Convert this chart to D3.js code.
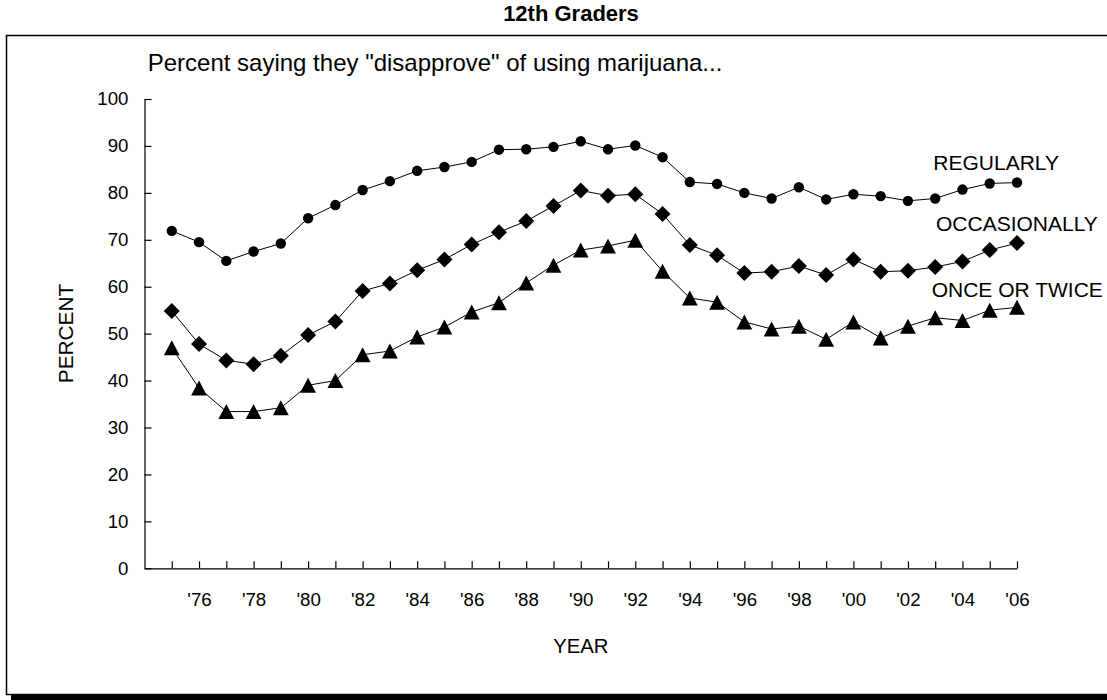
<!DOCTYPE html>
<html>
<head>
<meta charset="utf-8">
<script src="https://cdn.jsdelivr.net/npm/d3@7"></script>
<style>
  html, body { margin: 0; padding: 0; background: #fff; }
  svg { display: block; font-family: "Liberation Sans", Arial, sans-serif; }
</style>
</head>
<body>
<svg id="chart" width="1107" height="700"></svg>
<script>
const years = d3.range(1975, 2007);
const tickLabels = ["'76","'78","'80","'82","'84","'86","'88","'90","'92","'94","'96","'98","'00","'02","'04","'06"];
const yTicks = [0,10,20,30,40,50,60,70,80,90,100];
const seriesNames = ["REGULARLY", "OCCASIONALLY", "ONCE OR TWICE"];
const regularly = [71.9,69.5,65.5,67.5,69.2,74.6,77.4,80.6,82.5,84.7,85.5,86.6,89.2,89.3,89.8,91.0,89.3,90.1,87.6,82.3,81.9,80.0,78.8,81.2,78.6,79.7,79.3,78.3,78.8,80.7,82.0,82.2];
const occasionally = [54.8,47.8,44.3,43.5,45.3,49.7,52.6,59.1,60.7,63.5,65.8,69.0,71.6,74.0,77.2,80.5,79.4,79.7,75.5,68.9,66.7,62.9,63.2,64.4,62.5,65.8,63.2,63.4,64.2,65.4,67.8,69.3];
const onceTwice = [47.0,38.4,33.4,33.4,34.2,39.0,40.0,45.5,46.3,49.3,51.4,54.6,56.6,60.8,64.6,67.8,68.7,69.9,63.3,57.6,56.7,52.5,51.0,51.6,48.8,52.5,49.1,51.6,53.4,52.8,55.0,55.6];

const svg = d3.select("#chart");

// frame + shadow
svg.append("rect").attr("x", 11).attr("y", 695).attr("width", 1100).attr("height", 5).attr("fill", "#000");
svg.append("rect").attr("x", 6.5).attr("y", 35.5).attr("width", 1110).attr("height", 659)
  .attr("fill", "none").attr("stroke", "#000").attr("stroke-width", 1.5);

// title
svg.append("text").attr("x", 571).attr("y", 21).attr("text-anchor", "middle")
  .attr("font-size", 22).attr("font-weight", "bold").text("12th Graders");
svg.append("text").attr("x", 147.7).attr("y", 71).attr("font-size", 24)
  .text('Percent saying they "disapprove" of using marijuana...');

const x = d3.scaleLinear().domain([1974, 2006]).range([144.5, 1017]);
const y = d3.scaleLinear().domain([0, 100]).range([568.3, 99]);

// y axis
const yAxis = svg.append("g").attr("transform", "translate(144.5,0)")
  .call(d3.axisLeft(y).tickValues(yTicks).tickSize(-7).tickSizeOuter(0).tickPadding(16).tickFormat(d3.format("d")));
yAxis.selectAll("text").attr("font-size", 18.7).attr("font-family", "Liberation Sans, Arial, sans-serif").attr("fill", "#000");
yAxis.selectAll("line,path").attr("stroke", "#000").attr("stroke-width", 1.2);

// x axis
const evenYears = years.filter(d => d % 2 === 0);
const labelMap = new Map(evenYears.map((d, i) => [d, tickLabels[i]]));
const xAxis = svg.append("g").attr("transform", "translate(0,568.3)")
  .call(d3.axisBottom(x).tickValues(years).tickSize(-7).tickSizeOuter(0).tickPadding(24)
    .tickFormat(d => labelMap.get(d) || ""));
xAxis.selectAll("text").attr("font-size", 18.7).attr("font-family", "Liberation Sans, Arial, sans-serif").attr("fill", "#000");
xAxis.selectAll("line,path").attr("stroke", "#000").attr("stroke-width", 1.2);

// axis titles
svg.append("text").attr("x", 580.8).attr("y", 652.7).attr("text-anchor", "middle")
  .attr("font-size", 20.3).text("YEAR");
svg.append("text").attr("transform", "translate(73.3,333.5) rotate(-90)").attr("text-anchor", "middle")
  .attr("font-size", 20.8).text("PERCENT");

// custom symbols
const diamond = { draw(ctx, size) { const r = Math.sqrt(size) ; ctx.moveTo(0,-r); ctx.lineTo(r,0); ctx.lineTo(0,r); ctx.lineTo(-r,0); ctx.closePath(); } };
const triangle = { draw(ctx, size) { const w = Math.sqrt(size); const h = w * 0.95; ctx.moveTo(0,-h/2); ctx.lineTo(w/2,h/2); ctx.lineTo(-w/2,h/2); ctx.closePath(); } };

const series = [
  { values: regularly, type: d3.symbolCircle, size: Math.PI * 5.2 * 5.2 },
  { values: occasionally, type: diamond, size: 8 * 8 },
  { values: onceTwice, type: triangle, size: 15.8 * 15.8 }
];

const line = d3.line().x((d, i) => x(years[i])).y(d => y(d));
series.forEach(s => {
  svg.append("path").datum(s.values).attr("d", line).attr("fill", "none").attr("stroke", "#000").attr("stroke-width", 1);
  svg.append("g").selectAll("path").data(s.values).join("path")
    .attr("transform", (d, i) => `translate(${x(years[i])},${y(d)})`)
    .attr("d", d3.symbol().type(s.type).size(s.size)).attr("fill", "#000");
});

// series labels
const labelPos = [[933.3, 170], [936, 230.7], [931.7, 296.7]];
seriesNames.forEach((n, i) => {
  svg.append("text").attr("x", labelPos[i][0]).attr("y", labelPos[i][1]).attr("font-size", 21).text(n);
});
</script>
</body>
</html>
